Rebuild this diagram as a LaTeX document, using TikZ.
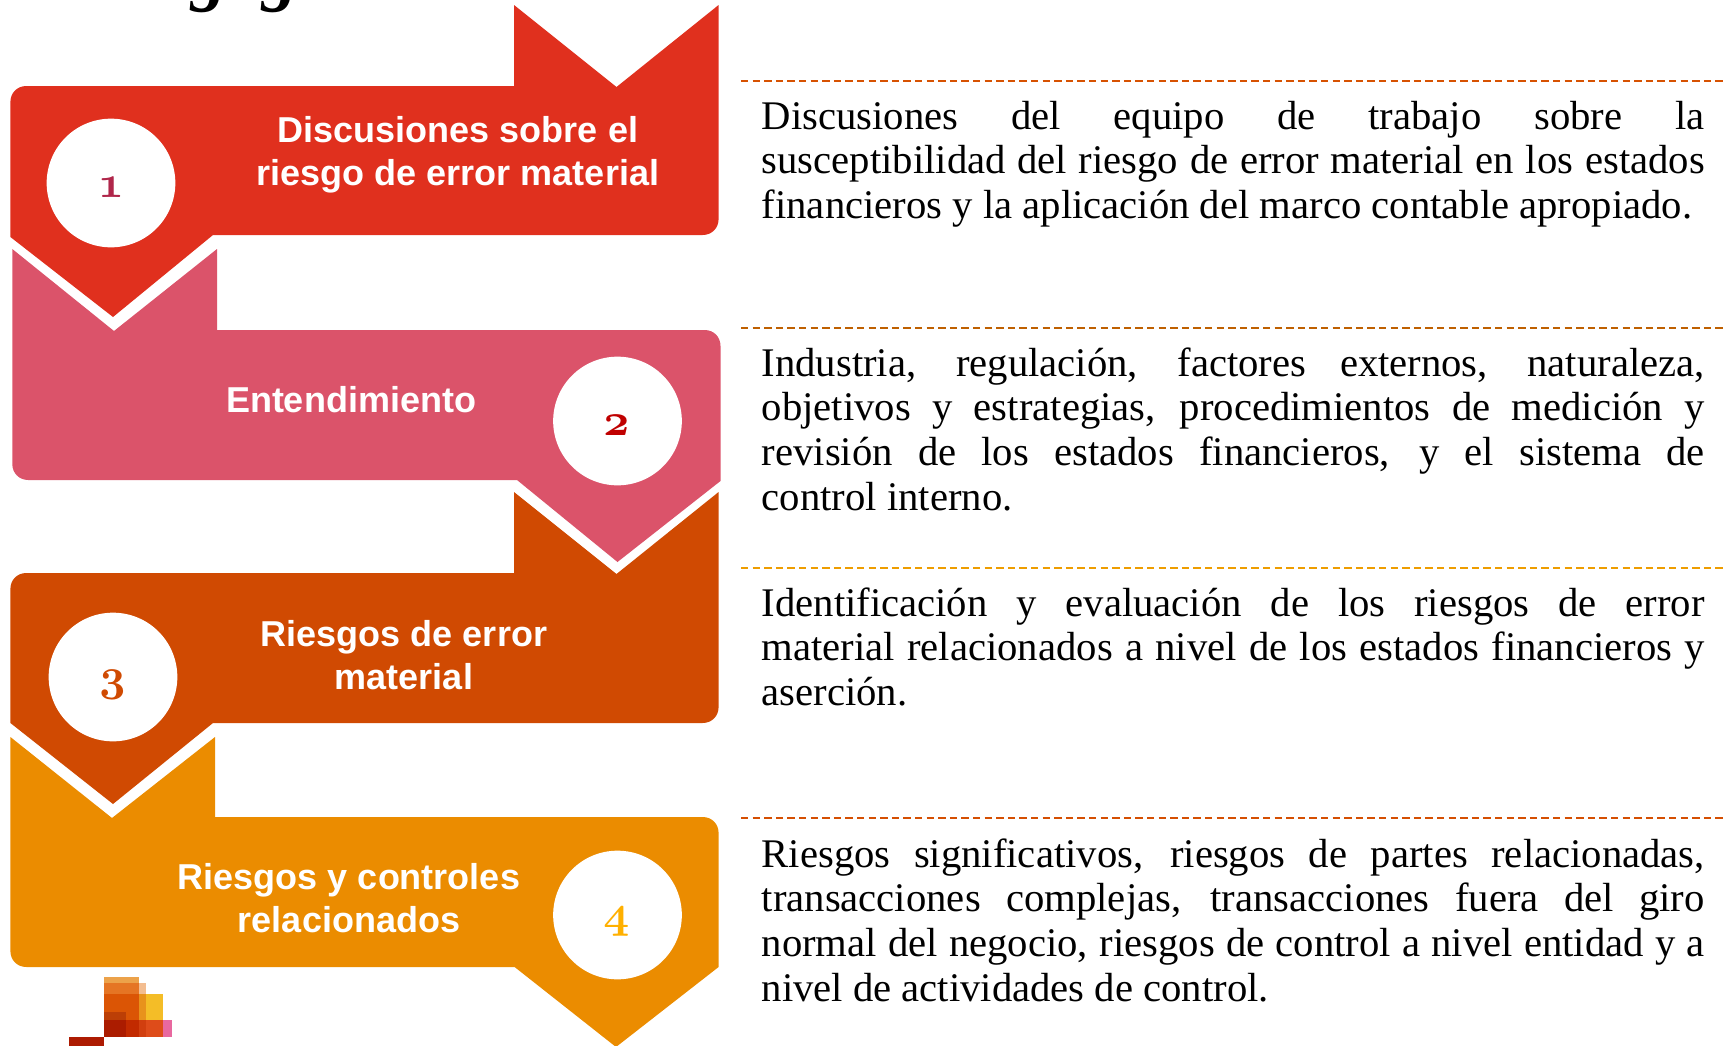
\documentclass[tikz,border=0pt]{standalone}
\usepackage{fontspec}
\newfontfamily\labelfont{Liberation Sans}
\newfontfamily\bodyfont{Liberation Serif}
\definecolor{cone}{HTML}{E0301E}
\definecolor{ctwo}{HTML}{DB536A}
\definecolor{cthree}{HTML}{D04A02}
\definecolor{cfour}{HTML}{EB8C00}
\definecolor{none}{HTML}{B0264A}
\definecolor{ntwo}{HTML}{C00000}
\definecolor{nfour}{HTML}{FFB000}
\newcommand{\jl}[1]{\hbox to 707.25pt{#1}}
\newcommand{\nl}[1]{\hbox{#1}}
\font\oldnumfont=cmmib10 at 34pt
\tikzset{
  x=0.75pt,y=-0.75pt,
  steplabel/.style={font=\labelfont\bfseries\fontsize{27}{32.2}\selectfont,text=white,align=center,inner sep=0pt,anchor=base},
  disc/.style={circle,fill=white,minimum size=96.5pt,inner sep=0pt},
  numeral/.style={font=\oldnumfont,inner sep=0pt,anchor=base},
  para/.style={font=\bodyfont\fontsize{30.5}{33.5}\selectfont,inner sep=0pt,anchor=base west,text=black},
  rule/.style={line width=1.5pt,dash pattern=on 5.5pt off 3.2pt},
  titlebit/.style={font=\fontspec{Liberation Serif Bold Italic}\fontsize{54}{54}\selectfont,inner sep=0pt,anchor=base,text=black}
}
\begin{document}
\begin{tikzpicture}
\useasboundingbox (0,0) rectangle (1725,1046);
% title remnants
\node[titlebit] (ta) at (209,-3) {g};
\node[titlebit] (tb) at (280,-3) {g};
% shapes
\fill[cone] (10.4,237) -- (10.4,102) .. controls (10.4,93) and (17,86) .. (26.4,86) -- (514,86) -- (514,5) -- (616.5,87) -- (718.6,5) -- (718.6,219) .. controls (718.6,228) and (712,235) .. (702.6,235) -- (213,235) -- (113,317) -- cycle;
\fill[ctwo] (12.3,249) -- (114,331) -- (217,249) -- (217,330) -- (704.5,330) .. controls (714,330) and (720.5,337) .. (720.5,346) -- (720.5,481) -- (617.5,562) -- (517,480) -- (28.3,480) .. controls (19,480) and (12.3,473) .. (12.3,464) -- cycle;
\fill[cthree] (514,492) -- (616.5,574) -- (718.6,492) -- (718.6,707) .. controls (718.6,716) and (712,723) .. (702.6,723) -- (213,723) -- (113,804) -- (10.4,723) -- (10.4,589) .. controls (10.4,580) and (17,573) .. (26.4,573) -- (514,573) -- cycle;
\fill[cfour] (10.4,737) -- (112,818) -- (215,737) -- (215,817) -- (702.6,817) .. controls (712,817) and (718.6,824) .. (718.6,833) -- (718.6,967) -- (616,1047) -- (514.6,967) -- (26.4,967) .. controls (17,967) and (10.4,960) .. (10.4,951) -- cycle;
% discs
\node[disc] (d1) at (111,183) {};
\node[disc] (d2) at (617.5,421) {};
\node[disc] (d3) at (113,677) {};
\node[disc] (d4) at (617.5,915) {};
% numbers
\node[numeral,text=none] (n1) at (111,197) {1};
\node[numeral,text=ntwo] (n2) at (616.5,435) {2};
\node[numeral,text=cthree] (n3) at (112.5,690) {3};
\node[numeral,text=nfour] (n4) at (616.5,927) {4};
% step labels
\node[steplabel] (l1) at (458,185) {Discusiones sobre el\\riesgo de error material};
\node[steplabel] (l2) at (351,412) {Entendimiento};
\node[steplabel] (l3) at (404,689) {Riesgos de error\\material};
\node[steplabel] (l4) at (349,932) {Riesgos y controles\\relacionados};
% dashed rules
\coordinate (ra) at (741,81); \coordinate (rae) at (1725,81);
\coordinate (rb) at (741,328); \coordinate (rbe) at (1725,328);
\coordinate (rc) at (741,568); \coordinate (rce) at (1725,568);
\coordinate (rd) at (741,818); \coordinate (rde) at (1725,818);
\draw[rule,draw=cthree!85!orange] (ra) -- (rae);
\draw[rule,draw=orange!75!black] (rb) -- (rbe);
\draw[rule,draw=cfour!85!yellow] (rc) -- (rce);
\draw[rule,draw=cthree!90!orange] (rd) -- (rde);
% paragraphs
\node[para] (p1) at (761.5,129) {\vtop{
\jl{Discusiones del equipo de trabajo sobre la}
\jl{susceptibilidad del riesgo de error material en los estados}
\nl{financieros y la aplicación del marco contable apropiado.}}};
\node[para] (p2) at (761.5,376) {\vtop{
\jl{Industria, regulación, factores externos, naturaleza,}
\jl{objetivos y estrategias, procedimientos de medición y}
\jl{revisión de los estados financieros, y el sistema de}
\nl{control interno.}}};
\node[para] (p3) at (761.5,616) {\vtop{
\jl{Identificación y evaluación de los riesgos de error}
\jl{material relacionados a nivel de los estados financieros y}
\nl{aserción.}}};
\node[para] (p4) at (761.5,867) {\vtop{
\jl{Riesgos significativos, riesgos de partes relacionadas,}
\jl{transacciones complejas, transacciones fuera del giro}
\jl{normal del negocio, riesgos de control a nivel entidad y a}
\nl{nivel de actividades de control.}}};
% logo
\fill[fill={rgb,255:red,236;green,162;blue,74}] (104,977) rectangle (139,983);
\fill[fill={rgb,255:red,229;green,117;blue,36}] (104,983) rectangle (139,994);
\fill[fill={rgb,255:red,243;green,189;blue,144}] (139,983) rectangle (146,994);
\fill[fill={rgb,255:red,219;green,85;blue,5}] (104,994) rectangle (139,1020);
\fill[fill={rgb,255:red,232;green,146;blue,28}] (139,994) rectangle (146,1020);
\fill[fill={rgb,255:red,244;green,189;blue,39}] (146,994) rectangle (163,1020);
\fill[fill={rgb,255:red,188;green,63;blue,6}] (104,1012) rectangle (126,1020);
\fill[fill={rgb,255:red,171;green,28;blue,0}] (104,1020) rectangle (126,1037);
\fill[fill={rgb,255:red,194;green,42;blue,0}] (126,1020) rectangle (139,1037);
\fill[fill={rgb,255:red,209;green,63;blue,15}] (139,1020) rectangle (146,1037);
\fill[fill={rgb,255:red,222;green,76;blue,26}] (146,1020) rectangle (163,1037);
\fill[fill={rgb,255:red,232;green,104;blue,159}] (163,1020) rectangle (172,1037);
\fill[fill={rgb,255:red,173;green,27;blue,2}] (69,1037) rectangle (104,1046);
\end{tikzpicture}
\end{document}
